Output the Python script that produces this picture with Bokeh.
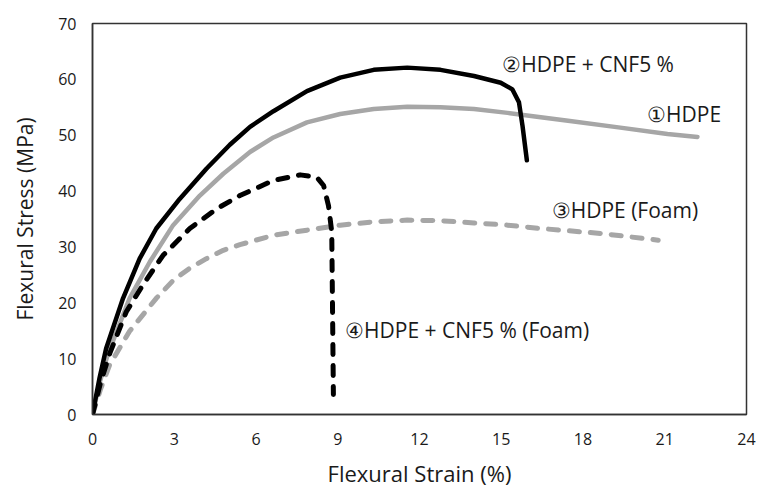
from bokeh.plotting import figure
from bokeh.models import FixedTicker, Range1d, ColumnDataSource
from bokeh.core.properties import value
from bokeh.embed import file_html
from bokeh.resources import INLINE

# ---- data ----
hdpe_x = [0, 0.25, 0.55, 1.36, 2.1, 2.96, 3.94, 4.8, 5.78, 6.64, 7.87, 9.09, 10.32, 11.55, 12.77, 14.0, 15.23, 16.45, 17.45, 19.3, 21.1, 22.2]
hdpe_y = [0, 5.5, 10.6, 20.8, 27.3, 33.9, 39.2, 43.1, 47.0, 49.6, 52.3, 53.8, 54.7, 55.1, 55.0, 54.7, 54.0, 53.2, 52.6, 51.4, 50.2, 49.7]

cnf_x = [0, 0.26, 0.5, 1.12, 1.73, 2.34, 3.2, 4.18, 5.04, 5.78, 6.64, 7.87, 9.09, 10.32, 11.55, 12.77, 14.0, 14.98, 15.41, 15.65, 15.78, 15.94]
cnf_y = [0, 6.6, 11.8, 20.8, 27.9, 33.3, 38.6, 44.0, 48.3, 51.5, 54.3, 57.9, 60.3, 61.7, 62.1, 61.7, 60.6, 59.4, 58.2, 55.9, 51.7, 45.5]

foam_x = [0, 0.3, 0.63, 1.36, 2.34, 2.96, 3.57, 4.18, 4.8, 5.41, 6.64, 7.87, 9.09, 10.32, 11.55, 12.77, 14.0, 15.23, 16.45, 18.69, 20.76]
foam_y = [0, 4.6, 8.9, 14.9, 20.8, 24.0, 26.2, 27.9, 29.4, 30.4, 32.1, 33.0, 33.9, 34.5, 34.8, 34.7, 34.3, 33.9, 33.3, 32.4, 31.2]

cnffoam_x = [0, 0.3, 0.63, 1.24, 1.85, 2.59, 3.57, 4.55, 5.41, 6.64, 7.62, 8.23, 8.48, 8.66, 8.78, 8.84]
cnffoam_y = [0, 5.8, 10.9, 18.4, 23.2, 28.5, 33.3, 36.8, 39.2, 41.9, 42.9, 42.5, 41.0, 37.4, 32.7, 3.6]

x_ticks = [0, 3, 6, 9, 12, 15, 18, 21, 24]
y_ticks = [0, 10, 20, 30, 40, 50, 60, 70]

label_text = ["②HDPE + CNF5 %", "①HDPE", "③HDPE (Foam)", "④HDPE + CNF5 % (Foam)"]
label_x = [15.04, 20.35, 16.85, 9.27]
label_y = [62.7, 53.8, 36.7, 15.2]

GRAY = "#A6A6A6"
FONT = "Open Sans"

p = figure(width=760, height=490, output_backend="svg", toolbar_location=None,
           x_range=Range1d(0, 24), y_range=Range1d(0, 70),
           min_border_left=92, min_border_right=14, min_border_top=23, min_border_bottom=73)

p.line(hdpe_x, hdpe_y, line_color=GRAY, line_width=4.5, line_cap="round", line_join="round")
p.line(foam_x, foam_y, line_color=GRAY, line_width=5, line_dash="10 11", line_cap="round", line_join="round")
p.line(cnf_x, cnf_y, line_color="black", line_width=4.5, line_cap="round", line_join="round")
p.line(cnffoam_x, cnffoam_y, line_color="black", line_width=5, line_dash="10 11", line_cap="round", line_join="round")

src = ColumnDataSource(dict(x=label_x, y=label_y, t=label_text))
p.text(x="x", y="y", text="t", source=src, text_font=value(FONT), text_font_size="21px",
       text_color="#1a1a1a", text_align="left", text_baseline="middle")

p.grid.visible = False
p.outline_line_color = "#333333"
p.outline_line_width = 1.5

p.xaxis.ticker = FixedTicker(ticks=x_ticks)
p.yaxis.ticker = FixedTicker(ticks=y_ticks)
for ax in (p.xaxis[0], p.yaxis[0]):
    ax.major_tick_line_color = None
    ax.minor_tick_line_color = None
    ax.major_tick_out = 0
    ax.major_tick_in = 0
    ax.axis_line_color = "#333333"
    ax.axis_line_width = 1.5
    ax.major_label_text_font = FONT
    ax.major_label_text_font_size = "16px"
    ax.major_label_text_color = "#1a1a1a"
    ax.axis_label_text_font = FONT
    ax.axis_label_text_font_style = "normal"
    ax.axis_label_text_color = "#1a1a1a"

p.xaxis.axis_label_text_font_size = "22px"
p.yaxis.axis_label_text_font_size = "21px"
p.xaxis.axis_label = "Flexural Strain (%)"
p.yaxis.axis_label = "Flexural Stress (MPa)"
p.xaxis.major_label_standoff = 18
p.yaxis.major_label_standoff = 16
p.xaxis.axis_label_standoff = 10
p.yaxis.axis_label_standoff = 16

open("out.html", "w").write(file_html(p, INLINE))
